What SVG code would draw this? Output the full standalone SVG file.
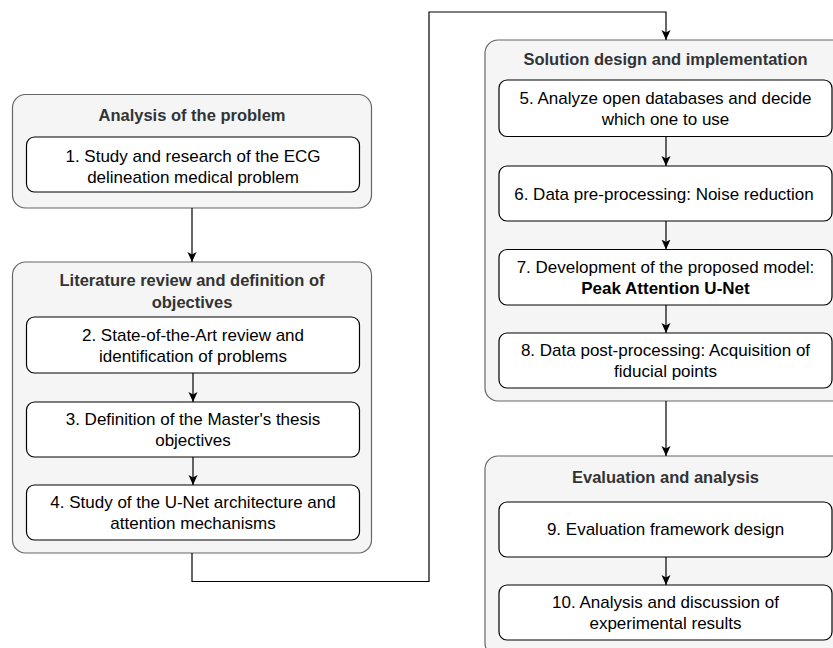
<svg xmlns="http://www.w3.org/2000/svg" width="833" height="648" viewBox="0 0 833 648">
<style>
.grp{fill:#f5f5f5;stroke:#666666;stroke-width:1.2}
.box{fill:#ffffff;stroke:#000000;stroke-width:1.2}
.ttl{font-family:"Liberation Sans",Arial,sans-serif;font-size:16.5px;font-weight:bold;fill:#333333;text-anchor:middle}
.txt{font-family:"Liberation Sans",Arial,sans-serif;font-size:17px;fill:#000000;text-anchor:middle}
.b{font-weight:bold}
.edge{fill:none;stroke:#000000;stroke-width:1.2}
</style>
<defs>
<marker id="arr" markerUnits="userSpaceOnUse" markerWidth="12" markerHeight="12" refX="10" refY="5" orient="auto">
<path d="M0,0.5 L10,5 L0,9.5 L2.5,5 Z" fill="#000000"/>
</marker>
</defs>
<g id="group-analysis">
<rect class="grp" x="12.5" y="94.5" width="359" height="113.5" rx="13"/>
<text class="ttl" x="192" y="121">Analysis of the problem</text>
</g>
<g id="node-1">
<rect class="box" x="26.5" y="137" width="333" height="55" rx="8"/>
<text class="txt" x="193" y="161.5">1. Study and research of the ECG</text>
<text class="txt" x="193" y="182.5">delineation medical problem</text>
</g>
<g id="group-literature">
<rect class="grp" x="12.5" y="262" width="359" height="291" rx="13"/>
<text class="ttl" x="192" y="286">Literature review and definition of</text>
<text class="ttl" x="192" y="307.5">objectives</text>
</g>
<g id="node-2">
<rect class="box" x="26.5" y="317" width="333" height="56" rx="8"/>
<text class="txt" x="193" y="340.5">2. State-of-the-Art review and</text>
<text class="txt" x="193" y="361.5">identification of problems</text>
</g>
<g id="node-3">
<rect class="box" x="26.5" y="402" width="333" height="55" rx="8"/>
<text class="txt" x="193" y="425">3. Definition of the Master's thesis</text>
<text class="txt" x="193" y="446">objectives</text>
</g>
<g id="node-4">
<rect class="box" x="26.5" y="485" width="333" height="55" rx="8"/>
<text class="txt" x="193" y="508">4. Study of the U-Net architecture and</text>
<text class="txt" x="193" y="529">attention mechanisms</text>
</g>
<g id="group-solution">
<rect class="grp" x="485" y="40" width="362" height="361" rx="13"/>
<text class="ttl" x="665.5" y="65">Solution design and implementation</text>
</g>
<g id="node-5">
<rect class="box" x="499" y="80" width="333" height="56.5" rx="8"/>
<text class="txt" x="665.5" y="104">5. Analyze open databases and decide</text>
<text class="txt" x="665.5" y="125">which one to use</text>
</g>
<g id="node-6">
<rect class="box" x="499" y="166" width="333" height="55" rx="8"/>
<text class="txt" x="664" y="199.5">6. Data pre-processing: Noise reduction</text>
</g>
<g id="node-7">
<rect class="box" x="499" y="249.5" width="333" height="55.5" rx="8"/>
<text class="txt" x="665.5" y="272.5">7. Development of the proposed model:</text>
<text class="txt b" x="665.5" y="293.5">Peak Attention U-Net</text>
</g>
<g id="node-8">
<rect class="box" x="499" y="333" width="333" height="55" rx="8"/>
<text class="txt" x="665.5" y="356">8. Data post-processing: Acquisition of</text>
<text class="txt" x="665.5" y="377">fiducial points</text>
</g>
<g id="group-evaluation">
<rect class="grp" x="485" y="456" width="362" height="200" rx="13"/>
<text class="ttl" x="665.5" y="482.5">Evaluation and analysis</text>
</g>
<g id="node-9">
<rect class="box" x="499" y="502" width="333" height="55" rx="8"/>
<text class="txt" x="665.5" y="535">9. Evaluation framework design</text>
</g>
<g id="node-10">
<rect class="box" x="499" y="585" width="333" height="55" rx="8"/>
<text class="txt" x="665.5" y="608">10. Analysis and discussion of</text>
<text class="txt" x="665.5" y="629">experimental results</text>
</g>
<g id="connectors">
<path class="edge" d="M192,208 L192,262" marker-end="url(#arr)"/>
<path class="edge" d="M193,373 L193,402" marker-end="url(#arr)"/>
<path class="edge" d="M193,457 L193,485" marker-end="url(#arr)"/>
<path class="edge" d="M192,553 L192,581.5 L429,581.5 L429,12 L666,12 L666,40" marker-end="url(#arr)"/>
<path class="edge" d="M666,136.5 L666,166" marker-end="url(#arr)"/>
<path class="edge" d="M666,221 L666,249.5" marker-end="url(#arr)"/>
<path class="edge" d="M666,305 L666,333" marker-end="url(#arr)"/>
<path class="edge" d="M666,401 L666,456" marker-end="url(#arr)"/>
<path class="edge" d="M666,557 L666,585" marker-end="url(#arr)"/>
</g>
</svg>
